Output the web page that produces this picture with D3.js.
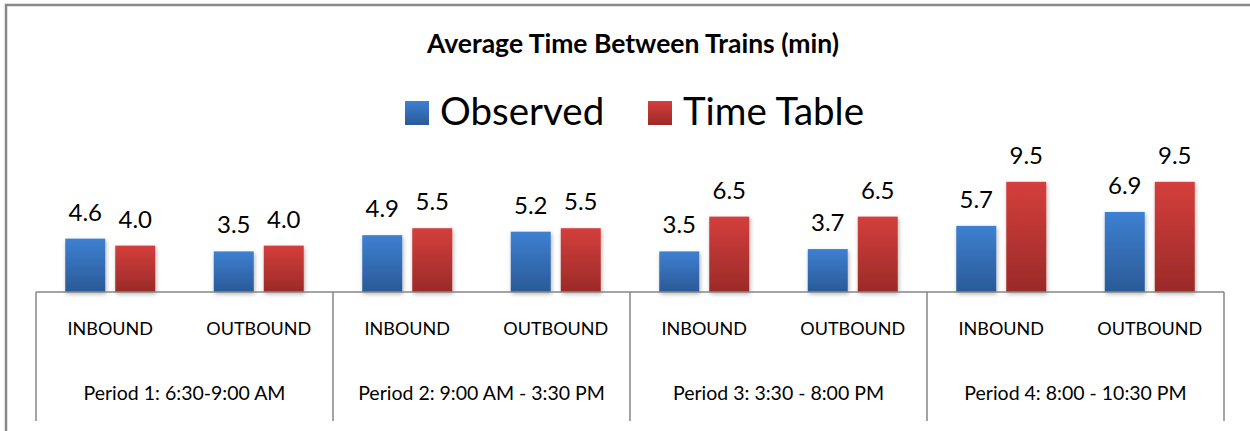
<!DOCTYPE html>
<html>
<head>
<meta charset="utf-8">
<script src="https://cdn.jsdelivr.net/npm/d3@7"></script>
<style>
  body { margin: 0; background: #fff; }
  svg { display: block; font-family: Lato, "Open Sans", sans-serif; }
</style>
</head>
<body>
<svg id="chart" width="1250" height="431"></svg>
<script>
// data
var periods = ["Period 1: 6:30-9:00 AM", "Period 2: 9:00 AM - 3:30 PM", "Period 3: 3:30 - 8:00 PM", "Period 4: 8:00 - 10:30 PM"];
var directions = ["INBOUND", "OUTBOUND"];
var seriesNames = ["Observed", "Time Table"];
var observed = [4.6, 3.5, 4.9, 5.2, 3.5, 3.7, 5.7, 6.9];
var timeTable = [4.0, 4.0, 5.5, 5.5, 6.5, 6.5, 9.5, 9.5];

var width = 1250, height = 431;
var left = 36, right = 1224, base = 292;

var svg = d3.select("#chart");
var defs = svg.append("defs");

var grads = [["gBlue", "#3e80d2", "#2a5a97"], ["gRed", "#d43f3c", "#9b2a28"]];
grads.forEach(function(g) {
  var lg = defs.append("linearGradient").attr("id", g[0])
    .attr("x1", 0).attr("y1", 0).attr("x2", 0).attr("y2", 1);
  lg.append("stop").attr("offset", "0%").attr("stop-color", g[1]);
  lg.append("stop").attr("offset", "100%").attr("stop-color", g[2]);
});
defs.append("filter").attr("id", "shadow")
  .attr("x", "-20%").attr("y", "-20%").attr("width", "140%").attr("height", "140%")
  .append("feDropShadow").attr("dx", 1).attr("dy", 2).attr("stdDeviation", 2)
  .attr("flood-color", "#000").attr("flood-opacity", 0.3);

// outer frame
svg.append("path").attr("d", "M6,431 V5 H1250")
  .attr("fill", "none").attr("stroke", "#898989").attr("stroke-width", 2.5);

// categories
var cats = [];
periods.forEach(function(p, i) {
  directions.forEach(function(d, j) { cats.push(i + "-" + j); });
});
var rows = cats.map(function(c, i) {
  return { key: c, dir: directions[i % 2], values: [observed[i], timeTable[i]] };
});

var x0 = d3.scaleBand().domain(cats).range([left, right]);
var x1 = d3.scaleBand().domain(seriesNames).range([0, x0.bandwidth()])
  .paddingInner(0.2).paddingOuter(0.585);
var xp = d3.scaleBand().domain(periods).range([left, right]);
var y = d3.scaleLinear().domain([0, 10]).range([base, 176]);
var fills = ["url(#gBlue)", "url(#gRed)"];

// title
svg.append("text").attr("x", 633).attr("y", 53).attr("text-anchor", "middle")
  .attr("font-weight", "bold").attr("font-size", 26.5).attr("fill", "#000")
  .text("Average Time Between Trains (min)");

// legend
var legX = [405, 648];
seriesNames.forEach(function(s, i) {
  svg.append("rect").attr("x", legX[i]).attr("y", 101).attr("width", 24).attr("height", 24)
    .attr("fill", fills[i]);
  svg.append("text").attr("x", legX[i] + 35).attr("y", 125)
    .attr("font-size", 38.5).attr("fill", "#000").text(s);
});

// bars
var grp = svg.selectAll(".cat").data(rows).enter().append("g")
  .attr("class", "cat")
  .attr("transform", function(d) { return "translate(" + x0(d.key) + ",0)"; });

grp.selectAll("rect").data(function(d) {
  return d.values.map(function(v, i) { return { s: seriesNames[i], v: v, i: i }; });
}).enter().append("rect")
  .attr("x", function(d) { return x1(d.s); })
  .attr("y", function(d) { return y(d.v); })
  .attr("width", x1.bandwidth())
  .attr("height", function(d) { return base - y(d.v); })
  .attr("fill", function(d) { return fills[d.i]; })
  .attr("filter", "url(#shadow)");

grp.selectAll("text.val").data(function(d) {
  return d.values.map(function(v, i) { return { s: seriesNames[i], v: v }; });
}).enter().append("text")
  .attr("class", "val")
  .attr("x", function(d) { return x1(d.s) + x1.bandwidth() / 2; })
  .attr("y", function(d) { return y(d.v) - 18; })
  .attr("text-anchor", "middle").attr("font-size", 24).attr("fill", "#000")
  .text(function(d) { return d3.format(".1f")(d.v); });

// axis
svg.append("line").attr("x1", left).attr("x2", right).attr("y1", base).attr("y2", base)
  .attr("stroke", "#868686").attr("stroke-width", 1.5);
var ticks = periods.map(function(p) { return xp(p); }).concat([right]);
svg.selectAll(".div").data(ticks).enter().append("line")
  .attr("x1", function(d) { return d; }).attr("x2", function(d) { return d; })
  .attr("y1", base).attr("y2", 421)
  .attr("stroke", "#868686").attr("stroke-width", 1.5);

grp.append("text")
  .attr("x", x0.bandwidth() / 2).attr("y", 335)
  .attr("text-anchor", "middle").attr("font-size", 18).attr("fill", "#000")
  .text(function(d) { return d.dir; });

svg.selectAll(".per").data(periods).enter().append("text")
  .attr("x", function(d) { return xp(d) + xp.bandwidth() / 2; })
  .attr("y", 400).attr("text-anchor", "middle").attr("font-size", 19.5).attr("fill", "#000")
  .text(function(d) { return d; });
</script>
</body>
</html>
